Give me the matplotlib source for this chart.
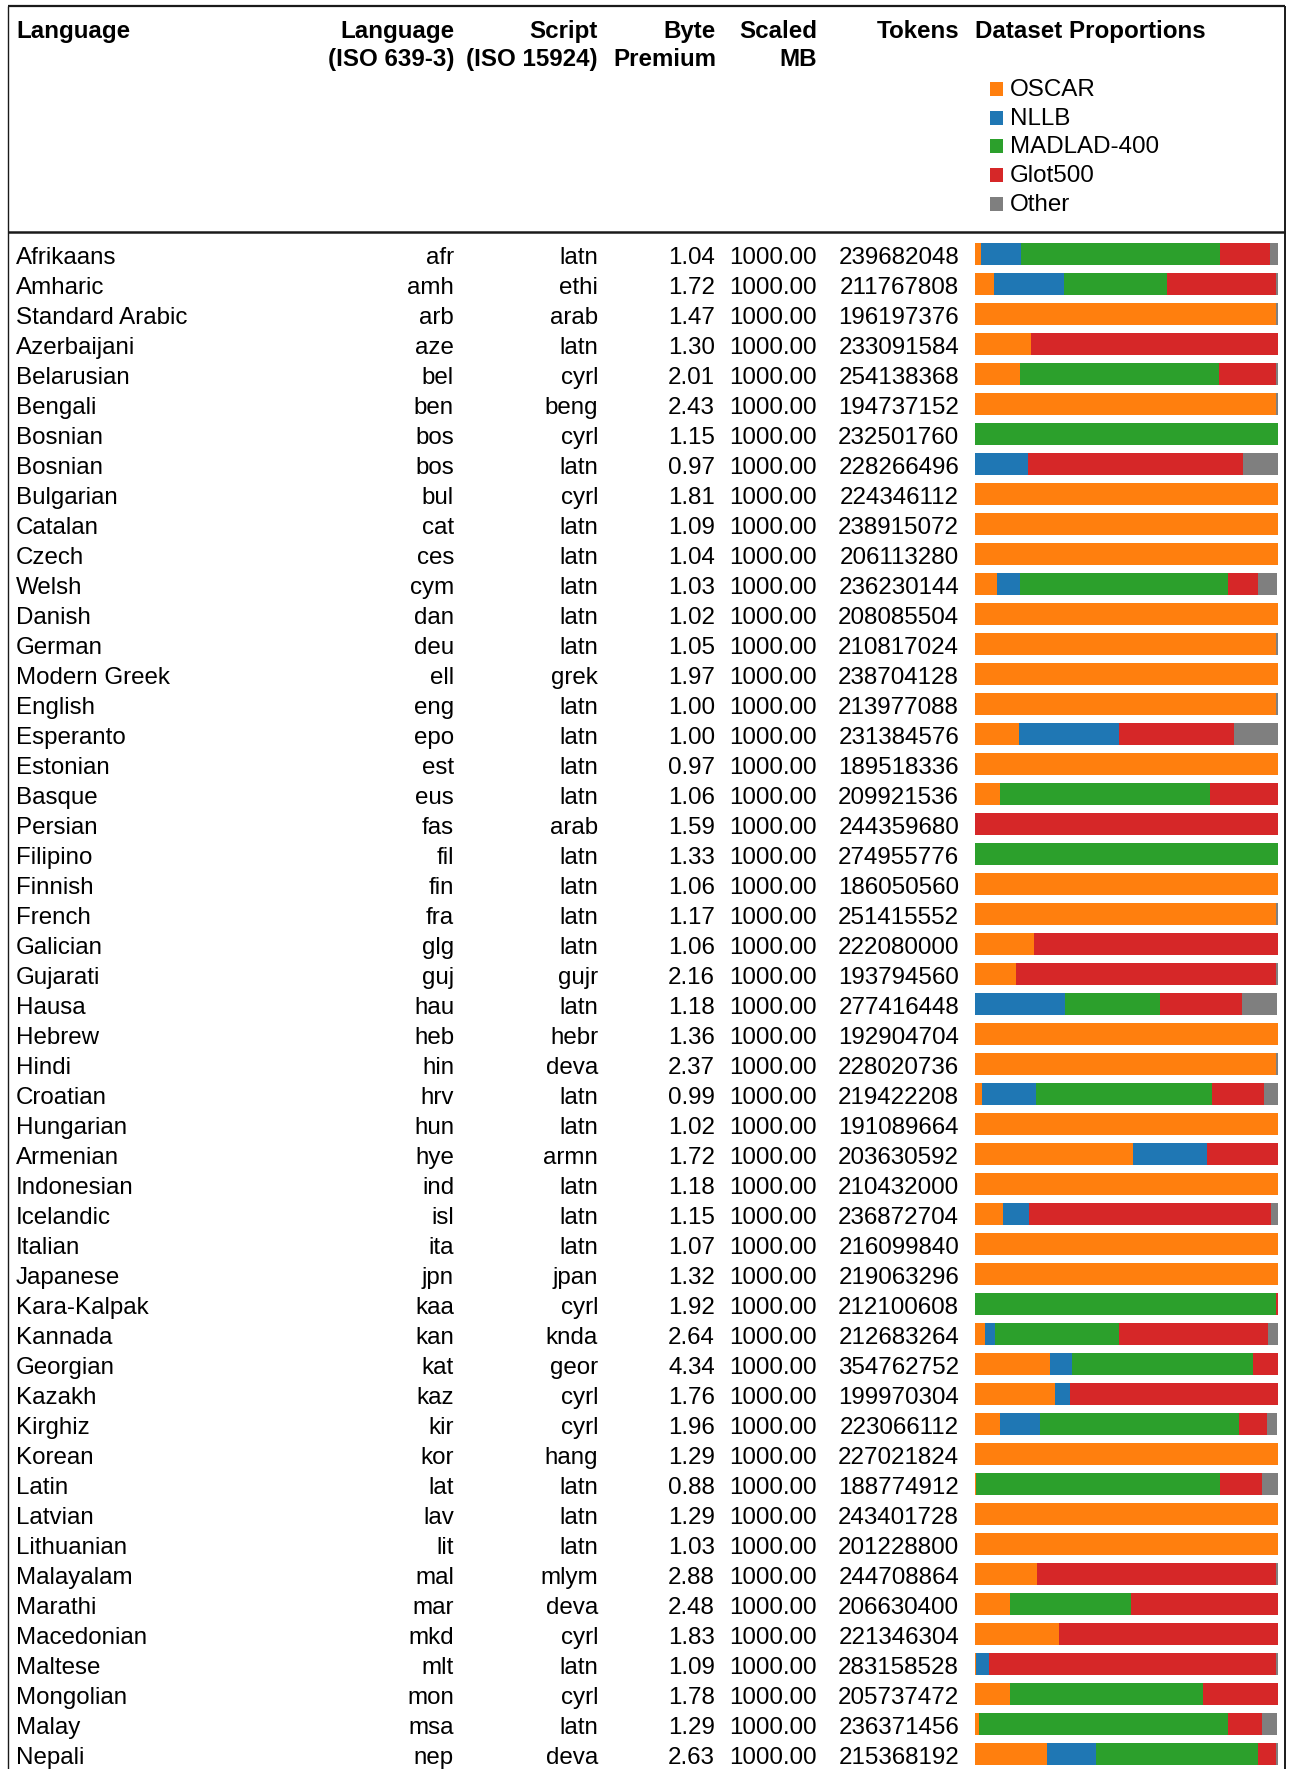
import matplotlib
matplotlib.use("Agg")
import matplotlib.pyplot as plt
import numpy as np
from matplotlib.patches import Rectangle

plt.rcParams['font.family'] = ['Liberation Sans', 'DejaVu Sans']

languages = ["Afrikaans", "Amharic", "Standard Arabic", "Azerbaijani", "Belarusian", "Bengali",
             "Bosnian", "Bosnian", "Bulgarian", "Catalan", "Czech", "Welsh", "Danish", "German",
             "Modern Greek", "English", "Esperanto", "Estonian", "Basque", "Persian", "Filipino",
             "Finnish", "French", "Galician", "Gujarati", "Hausa", "Hebrew", "Hindi", "Croatian",
             "Hungarian", "Armenian", "Indonesian", "Icelandic", "Italian", "Japanese",
             "Kara-Kalpak", "Kannada", "Georgian", "Kazakh", "Kirghiz", "Korean", "Latin",
             "Latvian", "Lithuanian", "Malayalam", "Marathi", "Macedonian", "Maltese",
             "Mongolian", "Malay", "Nepali"]
iso639 = ["afr", "amh", "arb", "aze", "bel", "ben", "bos", "bos", "bul", "cat", "ces", "cym",
          "dan", "deu", "ell", "eng", "epo", "est", "eus", "fas", "fil", "fin", "fra", "glg",
          "guj", "hau", "heb", "hin", "hrv", "hun", "hye", "ind", "isl", "ita", "jpn", "kaa",
          "kan", "kat", "kaz", "kir", "kor", "lat", "lav", "lit", "mal", "mar", "mkd", "mlt",
          "mon", "msa", "nep"]
scripts = ["latn", "ethi", "arab", "latn", "cyrl", "beng", "cyrl", "latn", "cyrl", "latn",
           "latn", "latn", "latn", "latn", "grek", "latn", "latn", "latn", "latn", "arab",
           "latn", "latn", "latn", "latn", "gujr", "latn", "hebr", "deva", "latn", "latn",
           "armn", "latn", "latn", "latn", "jpan", "cyrl", "knda", "geor", "cyrl", "cyrl",
           "hang", "latn", "latn", "latn", "mlym", "deva", "cyrl", "latn", "cyrl", "latn", "deva"]
byte_premium = [1.04, 1.72, 1.47, 1.30, 2.01, 2.43, 1.15, 0.97, 1.81, 1.09, 1.04, 1.03, 1.02,
                1.05, 1.97, 1.00, 1.00, 0.97, 1.06, 1.59, 1.33, 1.06, 1.17, 1.06, 2.16, 1.18,
                1.36, 2.37, 0.99, 1.02, 1.72, 1.18, 1.15, 1.07, 1.32, 1.92, 2.64, 4.34, 1.76,
                1.96, 1.29, 0.88, 1.29, 1.03, 2.88, 2.48, 1.83, 1.09, 1.78, 1.29, 2.63]
scaled_mb = [1000.00, 1000.00, 1000.00, 1000.00, 1000.00, 1000.00, 1000.00, 1000.00, 1000.00,
             1000.00, 1000.00, 1000.00, 1000.00, 1000.00, 1000.00, 1000.00, 1000.00, 1000.00,
             1000.00, 1000.00, 1000.00, 1000.00, 1000.00, 1000.00, 1000.00, 1000.00, 1000.00,
             1000.00, 1000.00, 1000.00, 1000.00, 1000.00, 1000.00, 1000.00, 1000.00, 1000.00,
             1000.00, 1000.00, 1000.00, 1000.00, 1000.00, 1000.00, 1000.00, 1000.00, 1000.00,
             1000.00, 1000.00, 1000.00, 1000.00, 1000.00, 1000.00]
tokens = [239682048, 211767808, 196197376, 233091584, 254138368, 194737152, 232501760,
          228266496, 224346112, 238915072, 206113280, 236230144, 208085504, 210817024,
          238704128, 213977088, 231384576, 189518336, 209921536, 244359680, 274955776,
          186050560, 251415552, 222080000, 193794560, 277416448, 192904704, 228020736,
          219422208, 191089664, 203630592, 210432000, 236872704, 216099840, 219063296,
          212100608, 212683264, 354762752, 199970304, 223066112, 227021824, 188774912,
          243401728, 201228800, 244708864, 206630400, 221346304, 283158528, 205737472,
          236371456, 215368192]

series_names = ["OSCAR", "NLLB", "MADLAD-400", "Glot500", "Other"]
series_colors = ["#ff7f0e", "#1f77b4", "#2ca02c", "#d62728", "#7f7f7f"]

oscar = [0.020, 0.063, 0.995, 0.185, 0.149, 0.993, 0.000, 0.000, 1.000, 1.000, 1.000, 0.073,
         1.000, 0.995, 1.000, 0.994, 0.145, 1.000, 0.082, 0.000, 0.000, 1.000, 0.995, 0.194,
         0.135, 0.000, 1.000, 0.995, 0.023, 1.000, 0.521, 1.000, 0.092, 1.000, 1.000, 0.000,
         0.033, 0.247, 0.264, 0.083, 1.000, 0.003, 1.000, 1.000, 0.204, 0.116, 0.276, 0.003,
         0.116, 0.013, 0.238]
nllb = [0.132, 0.231, 0.000, 0.000, 0.000, 0.000, 0.000, 0.175, 0.000, 0.000, 0.000, 0.076,
        0.000, 0.000, 0.000, 0.000, 0.330, 0.000, 0.000, 0.000, 0.000, 0.000, 0.000, 0.000,
        0.000, 0.297, 0.000, 0.000, 0.178, 0.000, 0.244, 0.000, 0.086, 0.000, 0.000, 0.000,
        0.033, 0.072, 0.050, 0.132, 0.000, 0.000, 0.000, 0.000, 0.000, 0.000, 0.000, 0.044,
        0.000, 0.000, 0.162]
madlad = [0.656, 0.340, 0.000, 0.000, 0.657, 0.000, 1.000, 0.000, 0.000, 0.000, 0.000, 0.685,
          0.000, 0.000, 0.000, 0.000, 0.000, 0.000, 0.693, 0.000, 1.000, 0.000, 0.000, 0.000,
          0.000, 0.313, 0.000, 0.000, 0.580, 0.000, 0.000, 0.000, 0.000, 0.000, 0.000, 0.993,
          0.410, 0.599, 0.000, 0.657, 0.000, 0.804, 0.000, 0.000, 0.000, 0.400, 0.000, 0.000,
          0.635, 0.823, 0.535]
glot500 = [0.166, 0.359, 0.000, 0.815, 0.189, 0.000, 0.000, 0.710, 0.000, 0.000, 0.000, 0.100,
           0.000, 0.000, 0.000, 0.000, 0.380, 0.000, 0.225, 1.000, 0.000, 0.000, 0.000, 0.806,
           0.860, 0.270, 0.000, 0.000, 0.174, 0.000, 0.235, 0.000, 0.799, 0.000, 0.000, 0.007,
           0.490, 0.082, 0.686, 0.092, 0.000, 0.140, 0.000, 0.000, 0.791, 0.484, 0.724, 0.948,
           0.249, 0.110, 0.060]
other = [0.026, 0.007, 0.005, 0.000, 0.005, 0.007, 0.000, 0.115, 0.000, 0.000, 0.000, 0.063,
         0.000, 0.005, 0.000, 0.006, 0.145, 0.000, 0.000, 0.000, 0.000, 0.000, 0.005, 0.000,
         0.005, 0.116, 0.000, 0.005, 0.045, 0.000, 0.000, 0.000, 0.023, 0.000, 0.000, 0.000,
         0.033, 0.000, 0.000, 0.033, 0.000, 0.053, 0.000, 0.000, 0.005, 0.000, 0.000, 0.005,
         0.000, 0.051, 0.005]

series_vals = [oscar, nllb, madlad, glot500, other]

W, H = 1290, 1769
ROW0, ROWSTEP = 254, 30
FS = 17.4
n = len(languages)

fig = plt.figure(figsize=(W / 100, H / 100), dpi=100)

# bars
ax_b = fig.add_axes([975 / W, 0, 303 / W, 1])
ax_b.set_xlim(0, 1)
ax_b.set_ylim((H - ROW0) / ROWSTEP, -ROW0 / ROWSTEP)
ax_b.axis('off')
rows = np.arange(n)
left = np.zeros(n)
for name, vals, col in zip(series_names, series_vals, series_colors):
    v = np.array(vals)
    ax_b.barh(rows, v, left=left, height=0.733, color=col, linewidth=0, label=name)
    left += v

# text / frame layer in pixel coordinates
ax = fig.add_axes([0, 0, 1, 1], zorder=3)
ax.set_xlim(0, W)
ax.set_ylim(H, 0)
ax.axis('off')
ax.patch.set_alpha(0)

lc = "#1a1a1a"
ax.plot([8, 1284.5], [5.5, 5.5], color=lc, lw=1.6, solid_capstyle='butt')
ax.plot([8, 1284.5], [231.5, 231.5], color=lc, lw=1.8, solid_capstyle='butt')
ax.plot([8, 8], [5.5, H], color=lc, lw=1.0, solid_capstyle='butt')
ax.plot([1284.5, 1284.5], [5.5, H], color=lc, lw=1.4, solid_capstyle='butt')

# header
hb1, hb2 = 37.5, 65.5
hdr = dict(fontsize=FS, fontweight='bold', va='baseline', color='black')
ax.text(16, hb1, "Language", ha='left', **hdr)
ax.text(454, hb1, "Language", ha='right', **hdr)
ax.text(454, hb2, "(ISO 639-3)", ha='right', **hdr)
ax.text(598, hb1, "Script", ha='right', **hdr)
ax.text(598, hb2, "(ISO 15924)", ha='right', **hdr)
ax.text(716, hb1, "Byte", ha='right', **hdr)
ax.text(716, hb2, "Premium", ha='right', **hdr)
ax.text(817, hb1, "Scaled", ha='right', **hdr)
ax.text(817, hb2, "MB", ha='right', **hdr)
ax.text(959, hb1, "Tokens", ha='right', **hdr)
ax.text(975, hb1, "Dataset Proportions", ha='left', **hdr)

# legend
for k, (name, col) in enumerate(zip(series_names, series_colors)):
    base = 96 + 28.67 * k
    ax.add_patch(Rectangle((990, base - 14), 13, 14, facecolor=col, edgecolor='none'))
    ax.text(1010, base, name, ha='left', va='baseline', fontsize=FS, color='black')

# rows
txt = dict(fontsize=FS, va='baseline', color='black')
for i in range(n):
    yb = ROW0 + ROWSTEP * i + 10.3
    ax.text(16, yb, languages[i], ha='left', **txt)
    ax.text(454, yb, iso639[i], ha='right', **txt)
    ax.text(598, yb, scripts[i], ha='right', **txt)
    ax.text(715, yb, f"{byte_premium[i]:.2f}", ha='right', **txt)
    ax.text(817, yb, f"{scaled_mb[i]:.2f}", ha='right', **txt)
    ax.text(959, yb, f"{tokens[i]}", ha='right', **txt)

fig.savefig("out.png", dpi=100)
